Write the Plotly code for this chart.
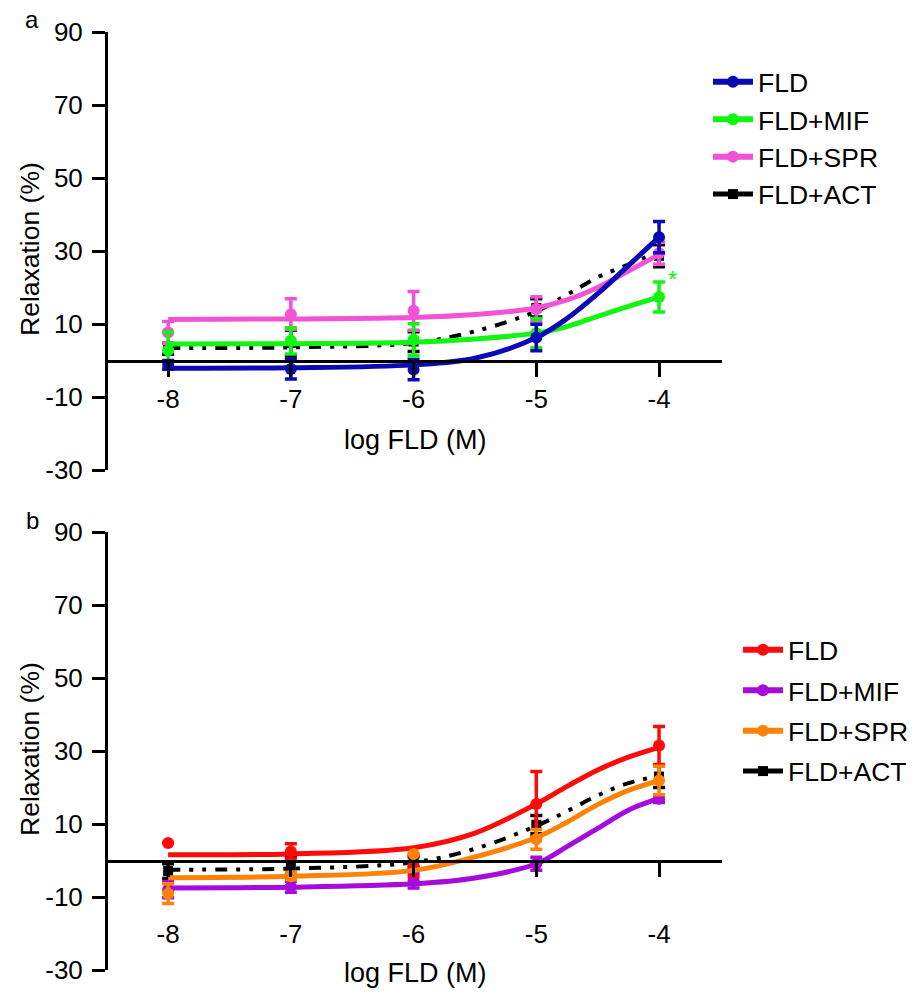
import plotly.graph_objects as go

# ---------------- data ----------------
log_conc = [-8, -7, -6, -5, -4]
curve_x = [-8, -7, -6, -5.5, -5, -4.75, -4.5, -4.25, -4]

series_names = ["FLD", "FLD+MIF", "FLD+SPR", "FLD+ACT"]

# Panel a - measured means and SEM
a_fld_mean = [-1.2, -2.3, -2.5, 6.3, 33.8]
a_fld_err = [1.2, 2.8, 2.8, 3.6, 4.3]
a_mif_mean = [2.8, 5.4, 5.7, 7.5, 17.4]
a_mif_err = [5.0, 3.6, 4.4, 4.0, 4.1]
a_spr_mean = [7.7, 12.7, 13.6, 14.1, 29.4]
a_spr_err = [3.0, 4.2, 5.3, 3.4, 3.0]
a_act_mean = [3.2, 4.8, 5.2, 14.4, 28.7]
a_act_err = [1.5, 3.5, 2.7, 2.5, 3.0]

# Panel a - fitted curves
a_fld_fit = [-2.1, -2.0, -1.2, 0.6, 6.3, 11.5, 18.3, 26.0, 33.8]
a_mif_fit = [4.5, 4.6, 5.0, 5.9, 7.5, 9.3, 12.1, 14.8, 17.4]
a_spr_fit = [11.2, 11.4, 11.8, 12.6, 14.4, 16.6, 20.0, 24.5, 29.0]
a_act_fit = [3.4, 3.6, 4.8, 8.0, 13.5, 18.0, 22.8, 26.3, 29.8]

# Panel b - measured means and SEM
b_fld_mean = [4.8, 2.5, -1.4, 15.5, 31.5]
b_fld_err = [0.0, 2.1, 3.0, 8.9, 5.2]
b_mif_mean = [-8.0, -7.2, -5.5, -0.9, 16.9]
b_mif_err = [2.2, 1.5, 2.0, 1.8, 1.0]
b_spr_mean = [-9.1, -4.3, 1.8, 5.8, 21.9]
b_spr_err = [2.7, 1.0, 0.0, 2.7, 3.9]
b_act_mean = [-2.9, -1.4, -0.5, 9.8, 23.0]
b_act_err = [2.0, 2.5, 1.5, 2.5, 3.0]

# Panel b - fitted curves
b_fld_fit = [1.6, 1.8, 3.5, 7.5, 15.5, 20.3, 24.8, 28.3, 31.0]
b_mif_fit = [-7.5, -7.3, -6.4, -4.8, -0.9, 3.8, 8.8, 13.8, 17.0]
b_spr_fit = [-4.7, -4.3, -2.7, 1.0, 6.3, 10.5, 15.3, 19.2, 21.9]
b_act_fit = [-2.5, -2.2, -0.5, 3.2, 9.5, 13.5, 17.8, 21.2, 23.2]

y_ticks = [-30, -10, 10, 30, 50, 70, 90]
x_ticks = [-8, -7, -6, -5, -4]

# ---------------- styling ----------------
FONT = "Liberation Sans, Arial, sans-serif"
W, H = 916, 1001
ML, MT = 108, 32
PW, PH = 614, 938
MR, MB = W - ML - PW, H - MT - PH

def px_x(px):  # image x pixel -> paper fraction
    return (px - ML) / PW

def px_y(py):  # image y pixel -> paper fraction
    return (MT + PH - py) / PH

dom_a = [px_y(470), px_y(32)]
dom_b = [px_y(970), px_y(532)]
Y_RANGE = [-30, 90]
X_RANGE = [-8.49, -3.487]

def zero_pos(dom):
    return dom[0] + (0 - Y_RANGE[0]) / (Y_RANGE[1] - Y_RANGE[0]) * (dom[1] - dom[0])

fig = go.Figure()

ACT_DASH = "12px,9px,4px,9px,4px,9px"
RANK = {"FLD": 1, "FLD+MIF": 2, "FLD+SPR": 3, "FLD+ACT": 4}

def add_series(name, color, means, errs, fit, xa, ya, legend, symbol="circle", dash="solid", msize=12):
    grp = legend + name
    fig.add_trace(go.Scatter(
        x=curve_x, y=fit, mode="lines", xaxis=xa, yaxis=ya,
        line=dict(color=color, width=5 if dash == "solid" else 4, shape="spline", smoothing=1.0, dash=dash),
        showlegend=False, legendgroup=grp, hoverinfo="skip"))
    fig.add_trace(go.Scatter(
        x=log_conc, y=means, mode="markers", xaxis=xa, yaxis=ya,
        marker=dict(color=color, size=msize, symbol=symbol),
        error_y=dict(type="data", array=errs, visible=True, color=color, thickness=3.5, width=6),
        showlegend=False, legendgroup=grp))
    # legend entry (no data points)
    fig.add_trace(go.Scatter(
        x=[None], y=[None], mode="lines+markers", xaxis=xa, yaxis=ya, name=name,
        line=dict(color=color, width=6 if dash == "solid" else 5, dash="solid"),
        marker=dict(color=color, size=msize, symbol=symbol),
        legend=legend, legendgroup=grp, legendrank=RANK[name], showlegend=True))

COL_A = {"FLD": "#0A0AB4", "FLD+MIF": "#12F512", "FLD+SPR": "#F252D6", "FLD+ACT": "#000000"}
COL_B = {"FLD": "#FF0A0A", "FLD+MIF": "#A60ADC", "FLD+SPR": "#FF8205", "FLD+ACT": "#000000"}

# panel a (draw order: ACT, SPR, MIF, FLD on top)
add_series("FLD+ACT", COL_A["FLD+ACT"], a_act_mean, a_act_err, a_act_fit, "x", "y", "legend", symbol="square", dash=ACT_DASH, msize=10)
add_series("FLD+SPR", COL_A["FLD+SPR"], a_spr_mean, a_spr_err, a_spr_fit, "x", "y", "legend")
add_series("FLD+MIF", COL_A["FLD+MIF"], a_mif_mean, a_mif_err, a_mif_fit, "x", "y", "legend")
add_series("FLD", COL_A["FLD"], a_fld_mean, a_fld_err, a_fld_fit, "x", "y", "legend")

# panel b
add_series("FLD+ACT", COL_B["FLD+ACT"], b_act_mean, b_act_err, b_act_fit, "x2", "y2", "legend2", symbol="square", dash=ACT_DASH, msize=10)
add_series("FLD+MIF", COL_B["FLD+MIF"], b_mif_mean, b_mif_err, b_mif_fit, "x2", "y2", "legend2")
add_series("FLD", COL_B["FLD"], b_fld_mean, b_fld_err, b_fld_fit, "x2", "y2", "legend2")
add_series("FLD+SPR", COL_B["FLD+SPR"], b_spr_mean, b_spr_err, b_spr_fit, "x2", "y2", "legend2")

axis_common = dict(showgrid=False, zeroline=False, showline=True, linecolor="black", linewidth=3,
                   ticks="outside", tickcolor="black", tickwidth=3,
                   tickfont=dict(family=FONT, size=26, color="black"))

xa = dict(axis_common, range=X_RANGE, tickvals=x_ticks, ticktext=[str(v) for v in x_ticks],
          ticklen=14, anchor="free", domain=[0, 1])
ya = dict(axis_common, range=Y_RANGE, tickvals=y_ticks, ticktext=[str(v) for v in y_ticks],
          ticklen=13, ticklabelstandoff=4)

legend_common = dict(font=dict(family=FONT, size=26.5, color="black"), bgcolor="rgba(0,0,0,0)",
                     traceorder="grouped", itemwidth=40, xanchor="left", yanchor="top")

fig.update_layout(
    width=W, height=H,
    margin=dict(l=ML, r=MR, t=MT, b=MB, autoexpand=False),
    paper_bgcolor="white", plot_bgcolor="white",
    font=dict(family=FONT, color="black"),
    xaxis=dict(xa, position=zero_pos(dom_a)),
    yaxis=dict(ya, domain=dom_a, anchor="x"),
    xaxis2=dict(xa, position=zero_pos(dom_b), ticklabelstandoff=35),
    yaxis2=dict(ya, domain=dom_b, anchor="x2"),
    legend=dict(legend_common, x=px_x(708), y=px_y(58), tracegroupgap=0),
    legend2=dict(legend_common, x=px_x(738), y=px_y(626), tracegroupgap=3),
    showlegend=True,
)

ann = []
for lbl, yc in (("a", 19), ("b", 520)):
    ann.append(dict(text=lbl, x=px_x(32), y=px_y(yc), xref="paper", yref="paper", showarrow=False,
                    xanchor="center", yanchor="middle", font=dict(family=FONT, size=24, color="black")))
for yc in (249, 749):
    ann.append(dict(text="Relaxation (%)", x=px_x(30), y=px_y(yc), xref="paper", yref="paper",
                    showarrow=False, textangle=-90, xanchor="center", yanchor="middle",
                    font=dict(family=FONT, size=26.5, color="black")))
for yc in (440, 973):
    ann.append(dict(text="log FLD (M)", x=0.5, y=px_y(yc), xref="paper", yref="paper",
                    showarrow=False, xanchor="center", yanchor="middle",
                    font=dict(family=FONT, size=27, color="black")))
ann.append(dict(text="*", x=-3.894, y=22.1, xref="x", yref="y", showarrow=False,
                xanchor="center", yanchor="middle", font=dict(family=FONT, size=24, color=COL_A["FLD+MIF"])))
fig.update_layout(annotations=ann)

# remove the default 8px page margin so the figure fills the window exactly
fig.write_html("out.html", config={"displayModeBar": False},
               post_script="document.body.style.margin='0';")
